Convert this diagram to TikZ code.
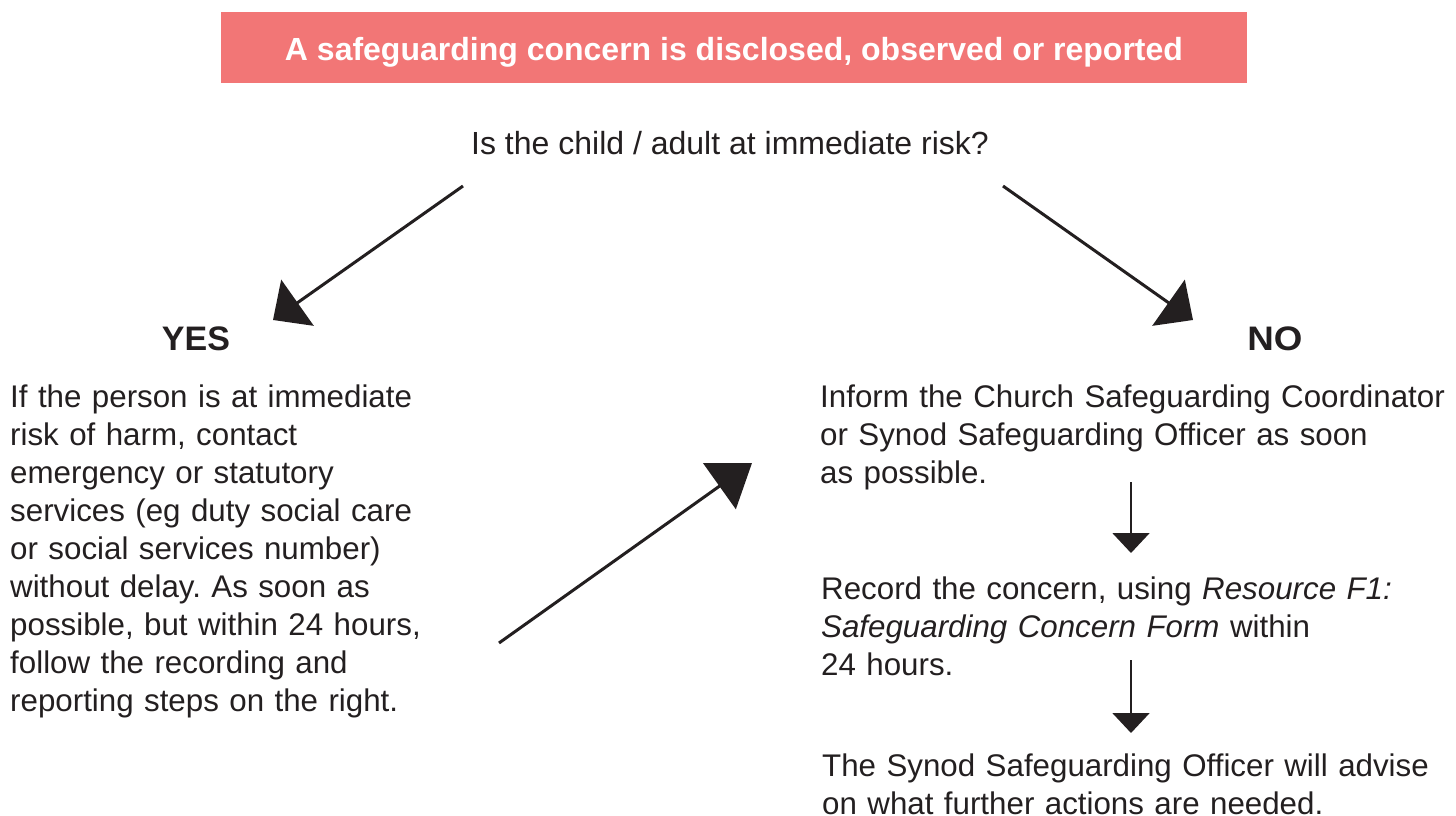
\documentclass[tikz,border=0pt]{standalone}
\usepackage{fontspec}
\setmainfont{Liberation Sans}
\usetikzlibrary{arrows.meta}
\definecolor{ink}{HTML}{231F20}
\definecolor{titlered}{HTML}{F27676}
\frenchspacing
\begin{document}
\begin{tikzpicture}[x=1pt,y=-1pt,
  body/.style={font=\fontsize{31.3}{38}\selectfont, text=ink, inner sep=0pt,
    anchor=base west, align=left, text width=#1},
  body/.default=660pt,
  answer/.style={font=\fontsize{34}{38}\selectfont\bfseries, text=ink, inner sep=0pt, anchor=base},
  bigarrow/.style={draw=ink, line width=3pt, -{Triangle[length=#1, width=56pt]}, fill=ink},
  smallarrow/.style={draw=ink, line width=2pt, -{Triangle[length=20pt, width=37pt]}, fill=ink}
]
\useasboundingbox (0,0) rectangle (1456,816);

\node[fill=titlered, minimum width=1026pt, minimum height=71pt, inner sep=0pt,
  text height=25pt, text depth=0pt, text=white,
  font=\fontsize{32}{38}\selectfont\bfseries] (title) at (734,47.5)
  {A safeguarding concern is disclosed, observed or reported};

\node[font=\fontsize{32}{38}\selectfont, text=ink, inner sep=0pt, anchor=base] (question) at (730,154)
  {Is the child / adult at immediate risk?};

\node[answer] (yes) at (196,350) {YES};
\node[answer] (no) at (1275,350) {\scalebox{1.08}[1]{NO}};

\node[body=480pt] (yesText) at (10,407)
  {If the person is at immediate\\
   risk of harm, contact\\
   emergency or statutory\\
   services (eg duty social care\\
   or social services number)\\
   without delay. As soon as\\
   possible, but within 24 hours,\\
   follow the recording and\\
   reporting steps on the right.};

\node[body] (inform) at (820,407)
  {Inform the Church Safeguarding Coordinator\\
   or Synod Safeguarding Officer as soon\\
   as possible.};

\node[body] (record) at (821,599)
  {Record the concern, using \textit{Resource F1:}\\
   \textit{Safeguarding Concern Form} within\\
   24 hours.};

\node[body] (advise) at (822,776)
  {The Synod Safeguarding Officer will advise\\
   on what further actions are needed.};

% connector end points
\coordinate (qL) at (463,186);
\coordinate (yesTip) at (273,320);
\coordinate (qR) at (1003,186);
\coordinate (noTip) at (1193,320);
\coordinate (yesOut) at (499,643);
\coordinate (informTip) at (752,463);
\coordinate (informOut) at (1131,482);
\coordinate (recordTip) at (1131,553);
\coordinate (recordOut) at (1131,660);
\coordinate (adviseTip) at (1131,733);

\draw[bigarrow=30pt] (qL) -- (yesTip);
\draw[bigarrow=30pt] (qR) -- (noTip);
\draw[bigarrow=40pt] (yesOut) -- (informTip);
\draw[smallarrow] (informOut) -- (recordTip);
\draw[smallarrow] (recordOut) -- (adviseTip);
\end{tikzpicture}
\end{document}
